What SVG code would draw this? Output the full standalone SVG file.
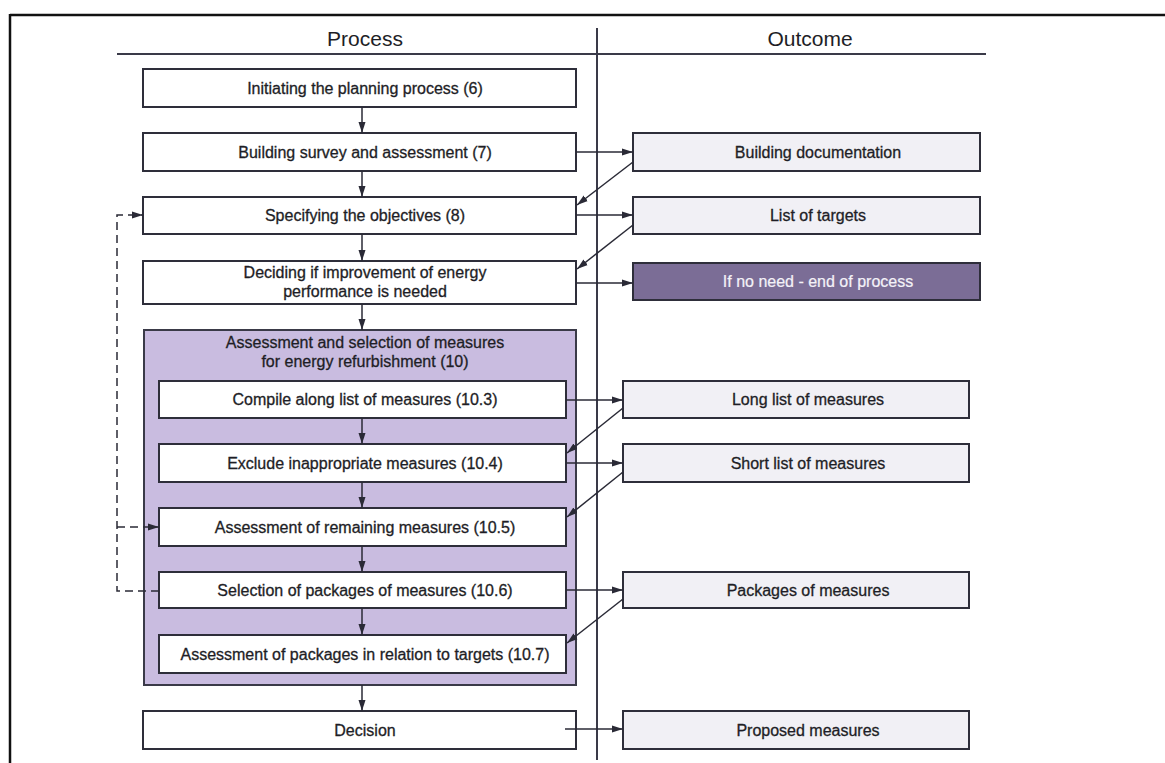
<svg xmlns="http://www.w3.org/2000/svg" width="1165" height="763" viewBox="0 0 1165 763">
<defs>
<marker id="ah" markerUnits="userSpaceOnUse" markerWidth="12" markerHeight="8" refX="11" refY="4" orient="auto">
<path d="M0,0.5 L11,4 L0,7.5 z" fill="#2a2a36"/>
</marker>
<style>
.frame{stroke:#111;stroke-width:2.5;fill:none}
.rule{stroke:#3a3a48;stroke-width:2;fill:none}
.box{fill:#ffffff;stroke:#2e2e3a;stroke-width:2}
.obox{fill:#f1f0f5;stroke:#2e2e3a;stroke-width:2}
.dark{fill:#7b6d96;stroke:#2e2e3a;stroke-width:2}
.group{fill:#c9bce0;stroke:#3a3a48;stroke-width:2}
.t{font-family:"Liberation Sans",Arial,sans-serif;font-size:16px;fill:#1e1e26;stroke:#1e1e26;stroke-width:0.3;text-anchor:middle}
.h{font-family:"Liberation Sans",Arial,sans-serif;font-size:21px;fill:#1e1e26;text-anchor:middle}
.w{fill:#f4f2f8;stroke:#f4f2f8;stroke-width:0.2}
.c{stroke:#2a2a36;stroke-width:1.5;fill:none}
.d{stroke:#2a2a36;stroke-width:1.5;fill:none;stroke-dasharray:8 5}
</style>
</defs>
<rect width="1165" height="763" fill="#ffffff"/>
<g id="frame">
<line class="frame" x1="10" y1="15" x2="1165" y2="15"/>
<line class="frame" x1="10" y1="14" x2="10" y2="763"/>
<line class="rule" x1="117" y1="54" x2="986" y2="54"/>
<line class="rule" x1="597" y1="28" x2="597" y2="760"/>
<text class="h" x="365" y="46">Process</text>
<text class="h" x="810" y="46">Outcome</text>
</g>
<g id="n-group">
<rect class="group" x="144" y="330" width="432" height="355"/>
<text class="t" x="365" y="348">Assessment and selection of measures</text>
<text class="t" x="365" y="367">for energy refurbishment (10)</text>
</g>
<g id="n-init">
<rect class="box" x="143" y="69" width="433" height="38"/>
<text class="t" x="365" y="94">Initiating the planning process (6)</text>
</g>
<g id="n-survey">
<rect class="box" x="143" y="133" width="433" height="38"/>
<text class="t" x="365" y="158">Building survey and assessment (7)</text>
</g>
<g id="n-objectives">
<rect class="box" x="143" y="197" width="433" height="37"/>
<text class="t" x="365" y="221">Specifying the objectives (8)</text>
</g>
<g id="n-deciding">
<rect class="box" x="143" y="261" width="433" height="43"/>
<text class="t" x="365" y="278">Deciding if improvement of energy</text>
<text class="t" x="365" y="297">performance is needed</text>
</g>
<g id="n-compile">
<rect class="box" x="159" y="381" width="407" height="37"/>
<text class="t" x="365" y="405">Compile along list of measures (10.3)</text>
</g>
<g id="n-exclude">
<rect class="box" x="159" y="444" width="407" height="38"/>
<text class="t" x="365" y="469">Exclude inappropriate measures (10.4)</text>
</g>
<g id="n-remaining">
<rect class="box" x="159" y="508" width="407" height="38"/>
<text class="t" x="365" y="533">Assessment of remaining measures (10.5)</text>
</g>
<g id="n-selection">
<rect class="box" x="159" y="572" width="407" height="36"/>
<text class="t" x="365" y="596">Selection of packages of measures (10.6)</text>
</g>
<g id="n-packages-assess">
<rect class="box" x="159" y="635" width="407" height="38"/>
<text class="t" x="365" y="660">Assessment of packages in relation to targets (10.7)</text>
</g>
<g id="n-decision">
<rect class="box" x="143" y="711" width="433" height="38"/>
<text class="t" x="365" y="736">Decision</text>
</g>
<g id="o-documentation">
<rect class="obox" x="633" y="133" width="347" height="38"/>
<text class="t" x="818" y="158">Building documentation</text>
</g>
<g id="o-targets">
<rect class="obox" x="633" y="197" width="347" height="37"/>
<text class="t" x="818" y="221">List of targets</text>
</g>
<g id="o-end">
<rect class="dark" x="633" y="263" width="347" height="37"/>
<text class="t w" x="818" y="287">If no need - end of process</text>
</g>
<g id="o-long">
<rect class="obox" x="623" y="381" width="346" height="37"/>
<text class="t" x="808" y="405">Long list of measures</text>
</g>
<g id="o-short">
<rect class="obox" x="623" y="444" width="346" height="38"/>
<text class="t" x="808" y="469">Short list of measures</text>
</g>
<g id="o-packages">
<rect class="obox" x="623" y="572" width="346" height="36"/>
<text class="t" x="808" y="596">Packages of measures</text>
</g>
<g id="o-proposed">
<rect class="obox" x="623" y="711" width="346" height="38"/>
<text class="t" x="808" y="736">Proposed measures</text>
</g>
<g id="connectors">
<line class="c" x1="362" y1="107" x2="362" y2="133" marker-end="url(#ah)"/>
<line class="c" x1="362" y1="171" x2="362" y2="197" marker-end="url(#ah)"/>
<line class="c" x1="362" y1="234" x2="362" y2="261" marker-end="url(#ah)"/>
<line class="c" x1="362" y1="304" x2="362" y2="330" marker-end="url(#ah)"/>
<line class="c" x1="362" y1="418" x2="362" y2="444" marker-end="url(#ah)"/>
<line class="c" x1="362" y1="482" x2="362" y2="508" marker-end="url(#ah)"/>
<line class="c" x1="362" y1="546" x2="362" y2="572" marker-end="url(#ah)"/>
<line class="c" x1="362" y1="608" x2="362" y2="635" marker-end="url(#ah)"/>
<line class="c" x1="362" y1="685" x2="362" y2="711" marker-end="url(#ah)"/>
<line class="c" x1="576" y1="152" x2="633" y2="152" marker-end="url(#ah)"/>
<line class="c" x1="576" y1="215" x2="633" y2="215" marker-end="url(#ah)"/>
<line class="c" x1="576" y1="283" x2="633" y2="283" marker-end="url(#ah)"/>
<line class="c" x1="566" y1="400" x2="623" y2="400" marker-end="url(#ah)"/>
<line class="c" x1="566" y1="463" x2="623" y2="463" marker-end="url(#ah)"/>
<line class="c" x1="566" y1="590" x2="623" y2="590" marker-end="url(#ah)"/>
<line class="c" x1="565" y1="729" x2="623" y2="729" marker-end="url(#ah)"/>
<line class="c" x1="633" y1="162" x2="577" y2="205" marker-end="url(#ah)"/>
<line class="c" x1="633" y1="225" x2="577" y2="269" marker-end="url(#ah)"/>
<line class="c" x1="623" y1="408" x2="567" y2="453" marker-end="url(#ah)"/>
<line class="c" x1="623" y1="472" x2="567" y2="517" marker-end="url(#ah)"/>
<line class="c" x1="623" y1="599" x2="567" y2="643" marker-end="url(#ah)"/>
<path class="d" d="M159,591 H117 V215 H143" marker-end="url(#ah)"/>
<line class="d" x1="117" y1="527" x2="159" y2="527" marker-end="url(#ah)"/>
</g>
</svg>
